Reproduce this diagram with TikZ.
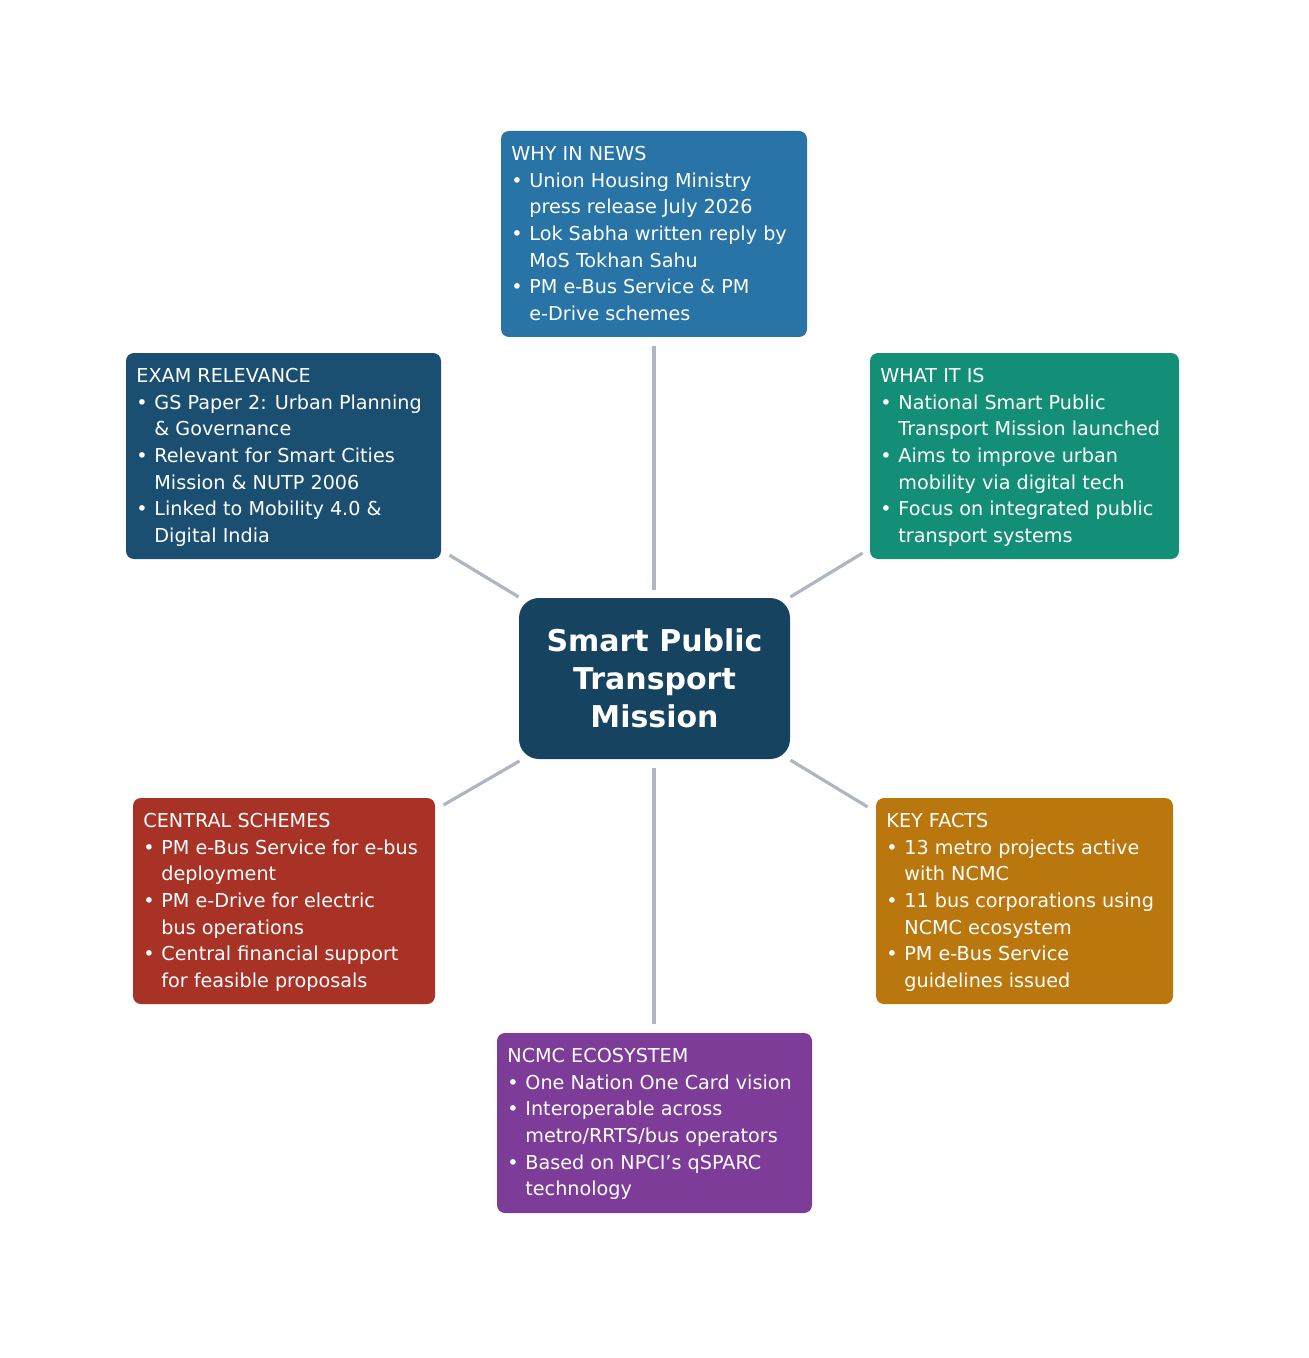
\documentclass[tikz,border=0pt]{standalone}
\usepackage{fontspec}
\setmainfont{DejaVu Sans}
\definecolor{cnews}{HTML}{2874A6}
\definecolor{cexam}{HTML}{1B4F72}
\definecolor{cwhat}{HTML}{148F77}
\definecolor{ccent}{HTML}{A93226}
\definecolor{ckey}{HTML}{B9770E}
\definecolor{cncmc}{HTML}{7D3C98}
\definecolor{cmain}{HTML}{154360}
\definecolor{cline}{HTML}{AEB6BF}
\newcommand{\bl}{\makebox[9pt][l]{•}}
\newcommand{\ind}{\hspace*{9pt}}
\begin{document}
\begin{tikzpicture}[x=0.5pt,y=-0.5pt,
 box/.style={rounded corners=3pt,text=white,anchor=north west,inner sep=0pt,
   font=\fontsize{9.6}{13.3}\selectfont},
 con/.style={draw=cline,line width=1.6pt,shorten >=2pt,shorten <=2pt}]
\useasboundingbox (0,0) rectangle (1308,1358);
\newcommand{\bx}[8]{%
 \fill[#5,rounded corners=4pt] (#1,#2) rectangle (#3,#4);
 \node[box,align=left] (#6) at (#1+10,#2+15) {#7\\#8};
 \coordinate (#6c) at ({(#1+#3)/2},{(#2+#4)/2});
}
\bx{501}{131}{807}{337}{cnews}{news}{WHY IN NEWS}{\bl Union Housing Ministry\\\ind press release July 2026\\\bl Lok Sabha written reply by\\\ind MoS Tokhan Sahu\\\bl PM e-Bus Service \& PM\\\ind e-Drive schemes}
\bx{126}{353}{441}{559}{cexam}{exam}{EXAM RELEVANCE}{\bl GS Paper 2: Urban Planning\\\ind \& Governance\\\bl Relevant for Smart Cities\\\ind Mission \& NUTP 2006\\\bl Linked to Mobility 4.0 \&\\\ind Digital India}
\bx{870}{353}{1179}{559}{cwhat}{what}{WHAT IT IS}{\bl National Smart Public\\\ind Transport Mission launched\\\bl Aims to improve urban\\\ind mobility via digital tech\\\bl Focus on integrated public\\\ind transport systems}
\bx{133}{798}{435}{1004}{ccent}{cent}{CENTRAL SCHEMES}{\bl PM e-Bus Service for e-bus\\\ind deployment\\\bl PM e-Drive for electric\\\ind bus operations\\\bl Central financial support\\\ind for feasible proposals}
\bx{876}{798}{1173}{1004}{ckey}{key}{KEY FACTS}{\bl 13 metro projects active\\\ind with NCMC\\\bl 11 bus corporations using\\\ind NCMC ecosystem\\\bl PM e-Bus Service\\\ind guidelines issued}
\bx{497}{1033}{812}{1213}{cncmc}{ncmc}{NCMC ECOSYSTEM}{\bl One Nation One Card vision\\\bl Interoperable across\\\ind metro/RRTS/bus operators\\\bl Based on NPCI’s qSPARC\\\ind technology}
\fill[cmain,rounded corners=10pt] (519,598) rectangle (790,759);
\node[text=white,align=center,font=\fontsize{15}{19}\selectfont\bfseries] (main) at (654.5,678) {Smart Public\\Transport\\Mission};
\coordinate (mT) at (654,594); \coordinate (mB) at (654,764);
\coordinate (mTL) at (522,599); \coordinate (mTR) at (787,599);
\coordinate (mBL) at (523,759); \coordinate (mBR) at (787,758);
\coordinate (eT) at (654,342); \coordinate (eB) at (654,1028);
\coordinate (eTL) at (446,553); \coordinate (eTR) at (866,551);
\coordinate (eBL) at (440,807); \coordinate (eBR) at (871,809);
\draw[con] (mT) -- (eT); \draw[con] (mB) -- (eB);
\draw[con] (mTL) -- (eTL); \draw[con] (mTR) -- (eTR);
\draw[con] (mBL) -- (eBL); \draw[con] (mBR) -- (eBR);
\end{tikzpicture}
\end{document}
